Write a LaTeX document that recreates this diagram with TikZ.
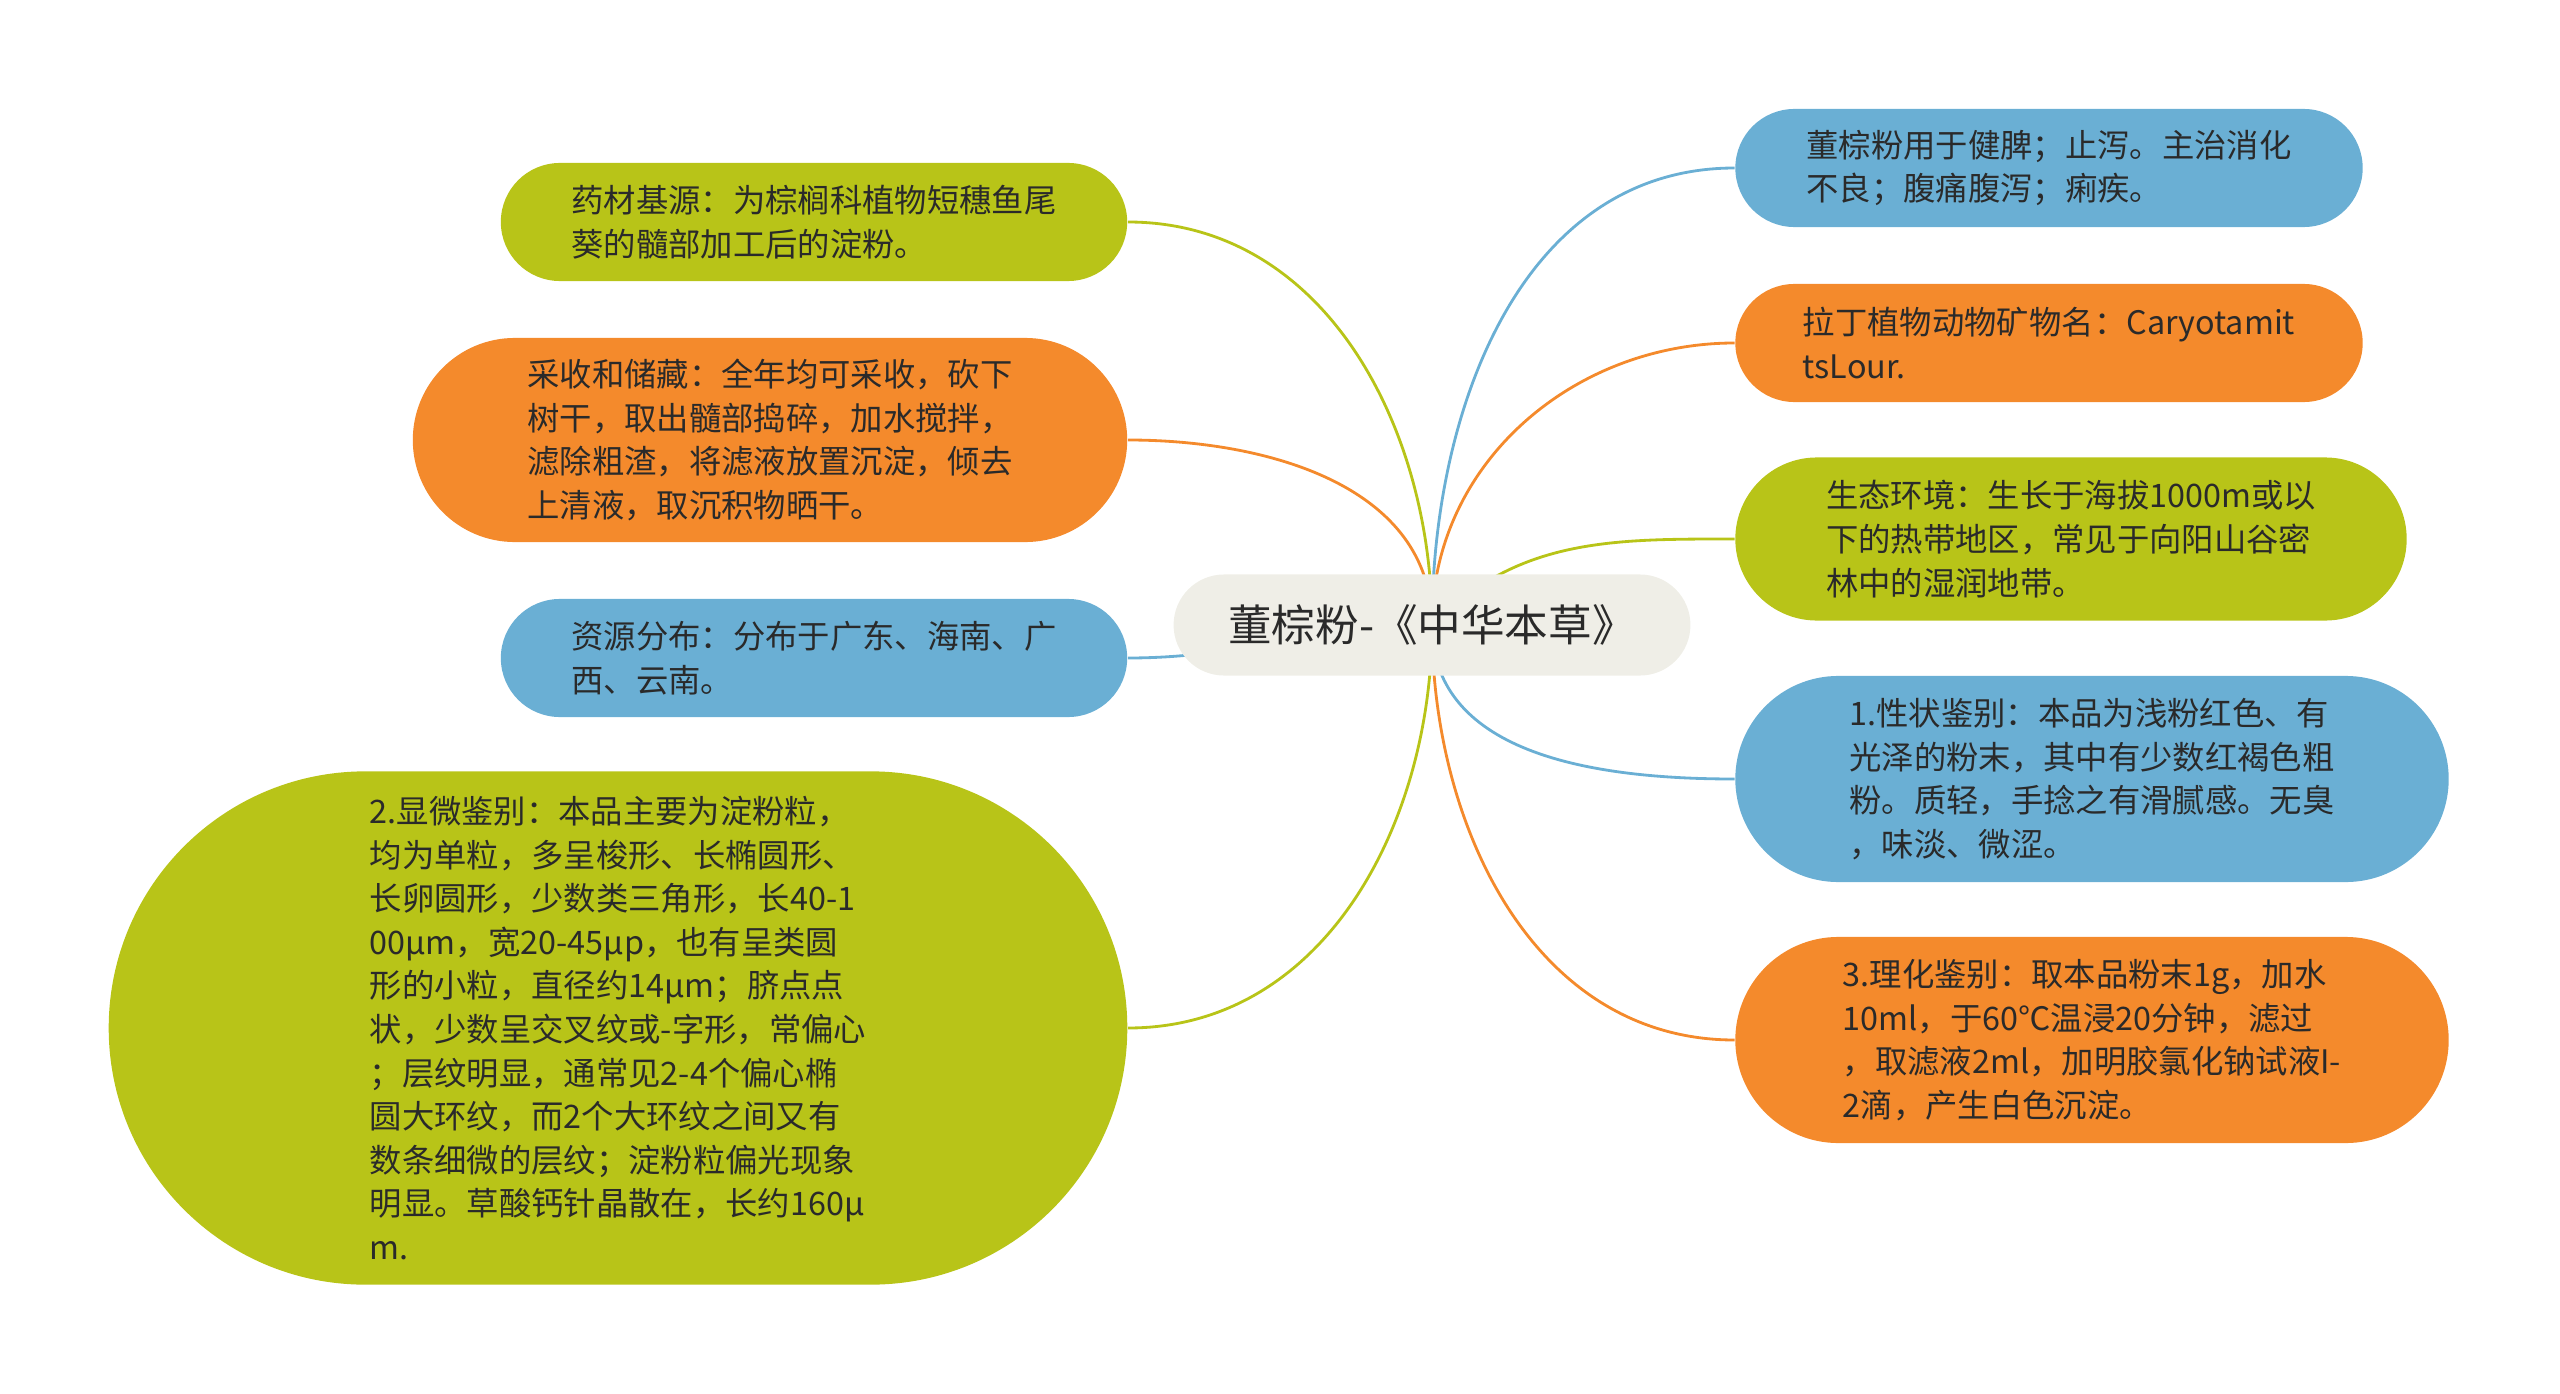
\documentclass[tikz,border=0pt]{standalone}
\usepackage{fontspec}
\setmainfont{Noto Sans CJK SC}
\usetikzlibrary{shapes.misc, backgrounds}

\definecolor{leafgreen}{HTML}{B8C418}
\definecolor{leaforange}{HTML}{F48A2C}
\definecolor{leafblue}{HTML}{6AAFD4}
\definecolor{rootgray}{HTML}{EFEEE7}
\definecolor{inkdark}{HTML}{2A2A2A}

\begin{document}
\begin{tikzpicture}[
        x=0.01cm, y=-0.01cm, % pixel grid
        every node/.style = {font=\fontsize{9.2}{12.4}\selectfont, text=inkdark},
        root/.style = {rounded rectangle, fill=rootgray, font=\fontsize{12.4}{14}\selectfont,
                minimum width=5.4cm, minimum height=1.01cm}, % center
        leaf/.style = {rounded rectangle, align=left, inner sep=0.15cm}, % branch boxes
        link/.style = {line width=0.8pt}, % connectors
    ]
    \useasboundingbox (0,0) rectangle (2560,1394);

    \node[root] (root) at (1432,625) {董棕粉-《中华本草》};

    % left side
    \node[leaf, fill=leafgreen, minimum width=6.56cm, minimum height=1.18cm] (source) at (814,222)
        {药材基源：为棕榈科植物短穗鱼尾\\葵的髓部加工后的淀粉。};
    \node[leaf, fill=leaforange, minimum width=7.44cm, minimum height=2.04cm] (harvest) at (770,440)
        {采收和储藏：全年均可采收，砍下\\树干，取出髓部捣碎，加水搅拌，\\滤除粗渣，将滤液放置沉淀，倾去\\上清液，取沉积物晒干。};
    \node[leaf, fill=leafblue, minimum width=6.56cm, minimum height=1.18cm] (range) at (814,658)
        {资源分布：分布于广东、海南、广\\西、云南。};
    \node[leaf, fill=leafgreen, minimum width=10.48cm, minimum height=5.13cm] (micro) at (618,1028)
        {2.显微鉴别：本品主要为淀粉粒，\\均为单粒，多呈梭形、长椭圆形、\\长卵圆形，少数类三角形，长40-1\\00μm，宽20-45μp，也有呈类圆\\形的小粒，直径约14μm；脐点点\\状，少数呈交叉纹或-字形，常偏心\\；层纹明显，通常见2-4个偏心椭\\圆大环纹，而2个大环纹之间又有\\数条细微的层纹；淀粉粒偏光现象\\明显。草酸钙针晶散在，长约160μ\\m.};

    % right side
    \node[leaf, fill=leafblue, minimum width=6.57cm, minimum height=1.18cm] (usage) at (2049,168)
        {董棕粉用于健脾；止泻。主治消化\\不良；腹痛腹泻；痢疾。};
    \node[leaf, fill=leaforange, minimum width=6.57cm, minimum height=1.18cm] (latin) at (2049,343)
        {拉丁植物动物矿物名：Caryotamit\\tsLour.};
    \node[leaf, fill=leafgreen, minimum width=7.01cm, minimum height=1.63cm] (habitat) at (2071,539)
        {生态环境：生长于海拔1000m或以\\下的热带地区，常见于向阳山谷密\\林中的湿润地带。};
    \node[leaf, fill=leafblue, minimum width=7.43cm, minimum height=2.06cm] (looks) at (2092,779)
        {1.性状鉴别：本品为浅粉红色、有\\光泽的粉末，其中有少数红褐色粗\\粉。质轻，手捻之有滑腻感。无臭\\，味淡、微涩。};
    \node[leaf, fill=leaforange, minimum width=7.43cm, minimum height=2.06cm] (chem) at (2092,1040)
        {3.理化鉴别：取本品粉末1g，加水\\10ml，于60℃温浸20分钟，滤过\\，取滤液2ml，加明胶氯化钠试液I-\\2滴，产生白色沉淀。};

    \begin{scope}[on background layer]
        \draw[link, leafgreen] (root.center) to[out=90, in=0] (source.east);
        \draw[link, leaforange] (root.center) to[out=90, in=0] (harvest.east);
        \draw[link, leafblue] (root.center) to[out=180, in=0] (range.east);
        \draw[link, leafgreen] (root.center) to[out=-90, in=0] (micro.east);
        \draw[link, leafblue] (root.center) to[out=90, in=180] (usage.west);
        \draw[link, leaforange] (root.center) to[out=90, in=180] (latin.west);
        \draw[link, leafgreen] (root.center) to[out=45, in=180] (habitat.west);
        \draw[link, leafblue] (root.center) to[out=-90, in=180] (looks.west);
        \draw[link, leaforange] (root.center) to[out=-90, in=180] (chem.west);
    \end{scope}

\end{tikzpicture}
\end{document}
